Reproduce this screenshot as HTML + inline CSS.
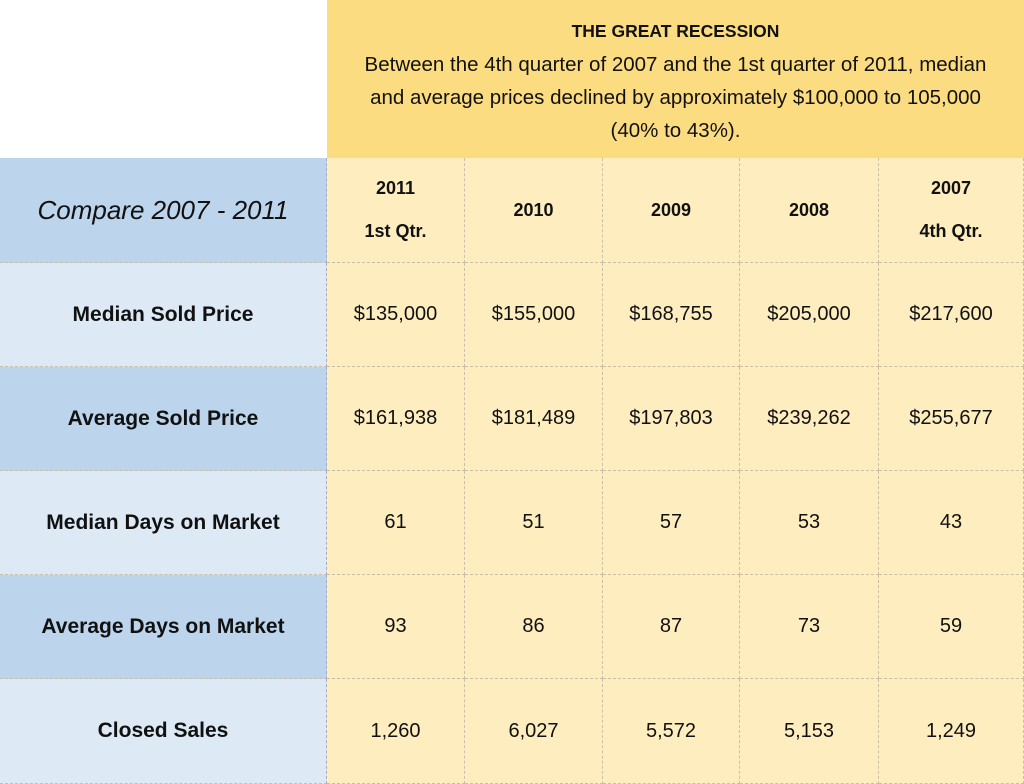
<!DOCTYPE html>
<html><head><style>
body{margin:0;width:1024px;height:784px;background:#fff;position:relative;overflow:hidden;font-family:"Liberation Sans",sans-serif;color:#111}
.c{position:absolute;display:flex;align-items:center;justify-content:center;text-align:center;box-sizing:border-box;border-right:1px dashed #c8c0a8;border-bottom:1px dashed #c8c0a8}
.y{background:#fdedbf;font-size:20px}
.b1{background:#bcd5ed}
.b2{background:#ddeaf6}
.l{font-weight:bold;font-size:21px;border-right:1px dashed #aab}
.h{font-weight:bold;font-size:18px;line-height:43px}
</style></head><body>
<div style="position:absolute;left:327px;top:0;width:697px;height:158px;background:#fcdc80;text-align:center;font-size:20.5px;line-height:33px;padding-top:14px;box-sizing:border-box;white-space:nowrap">
<b style="font-size:17.5px">THE GREAT RECESSION</b><br>Between the 4th quarter of 2007 and the 1st quarter of 2011, median<br>and average prices declined by approximately $100,000 to 105,000<br>(40% to 43%).</div>
<div class="c b1" style="left:0;top:158px;width:327px;height:105px;font-style:italic;font-size:26px;border-right:1px dashed #aab">Compare 2007 - 2011</div>
<div class="c y h" style="left:327px;top:158px;width:138px;height:105px">2011<br>1st Qtr.</div>
<div class="c y h" style="left:465px;top:158px;width:138px;height:105px">2010</div>
<div class="c y h" style="left:603px;top:158px;width:137px;height:105px">2009</div>
<div class="c y h" style="left:740px;top:158px;width:139px;height:105px">2008</div>
<div class="c y h" style="left:879px;top:158px;width:145px;height:105px">2007<br>4th Qtr.</div>

<div class="c b2 l" style="left:0;top:263px;width:327px;height:104px">Median Sold Price</div>
<div class="c y" style="left:327px;top:263px;width:138px;height:104px">$135,000</div>
<div class="c y" style="left:465px;top:263px;width:138px;height:104px">$155,000</div>
<div class="c y" style="left:603px;top:263px;width:137px;height:104px">$168,755</div>
<div class="c y" style="left:740px;top:263px;width:139px;height:104px">$205,000</div>
<div class="c y" style="left:879px;top:263px;width:145px;height:104px">$217,600</div>

<div class="c b1 l" style="left:0;top:367px;width:327px;height:104px">Average Sold Price</div>
<div class="c y" style="left:327px;top:367px;width:138px;height:104px">$161,938</div>
<div class="c y" style="left:465px;top:367px;width:138px;height:104px">$181,489</div>
<div class="c y" style="left:603px;top:367px;width:137px;height:104px">$197,803</div>
<div class="c y" style="left:740px;top:367px;width:139px;height:104px">$239,262</div>
<div class="c y" style="left:879px;top:367px;width:145px;height:104px">$255,677</div>

<div class="c b2 l" style="left:0;top:471px;width:327px;height:104px">Median Days on Market</div>
<div class="c y" style="left:327px;top:471px;width:138px;height:104px">61</div>
<div class="c y" style="left:465px;top:471px;width:138px;height:104px">51</div>
<div class="c y" style="left:603px;top:471px;width:137px;height:104px">57</div>
<div class="c y" style="left:740px;top:471px;width:139px;height:104px">53</div>
<div class="c y" style="left:879px;top:471px;width:145px;height:104px">43</div>

<div class="c b1 l" style="left:0;top:575px;width:327px;height:104px">Average Days on Market</div>
<div class="c y" style="left:327px;top:575px;width:138px;height:104px">93</div>
<div class="c y" style="left:465px;top:575px;width:138px;height:104px">86</div>
<div class="c y" style="left:603px;top:575px;width:137px;height:104px">87</div>
<div class="c y" style="left:740px;top:575px;width:139px;height:104px">73</div>
<div class="c y" style="left:879px;top:575px;width:145px;height:104px">59</div>

<div class="c b2 l" style="left:0;top:679px;width:327px;height:105px">Closed Sales</div>
<div class="c y" style="left:327px;top:679px;width:138px;height:105px">1,260</div>
<div class="c y" style="left:465px;top:679px;width:138px;height:105px">6,027</div>
<div class="c y" style="left:603px;top:679px;width:137px;height:105px">5,572</div>
<div class="c y" style="left:740px;top:679px;width:139px;height:105px">5,153</div>
<div class="c y" style="left:879px;top:679px;width:145px;height:105px">1,249</div>
</body></html>
